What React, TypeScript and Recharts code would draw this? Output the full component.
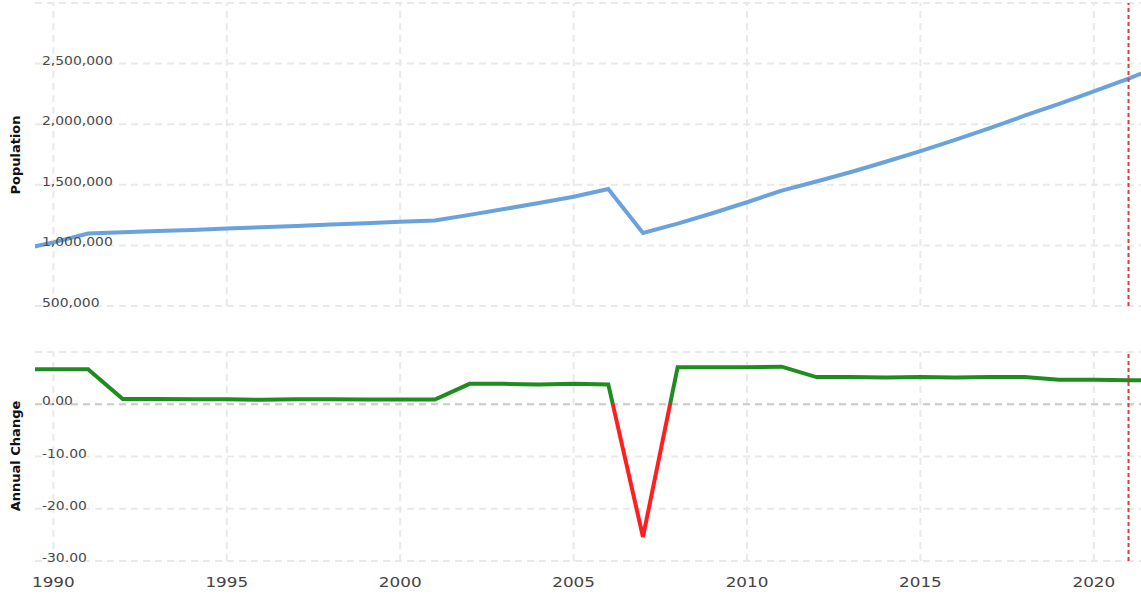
import React from 'react';
import { LineChart, Line, XAxis, YAxis, CartesianGrid, ReferenceLine } from 'recharts';

const years = [
  1989, 1990, 1991, 1992, 1993, 1994, 1995, 1996, 1997, 1998, 1999, 2000, 2001, 2002, 2003, 2004, 2005,
  2006, 2007, 2008, 2009, 2010, 2011, 2012, 2013, 2014, 2015, 2016, 2017, 2018, 2019, 2020, 2021, 2022,
];

const population = [
  962000, 1025000, 1098000, 1108000, 1118000, 1128000, 1139000, 1150000, 1161000, 1172000, 1183000,
  1195000, 1206000, 1252000, 1300000, 1350000, 1402000, 1465000, 1102000, 1180000, 1265000, 1356000,
  1452000, 1527000, 1606000, 1690000, 1778000, 1870000, 1967000, 2070000, 2168000, 2270000, 2377000,
  2488000,
];

const annualChange = [
  6.7, 6.7, 6.7, 1.0, 1.0, 0.95, 0.95, 0.85, 0.95, 0.95, 0.9, 0.9, 0.9, 3.9, 3.9, 3.8, 3.9, 3.8, -25.4,
  7.1, 7.1, 7.1, 7.2, 5.2, 5.2, 5.1, 5.2, 5.1, 5.2, 5.2, 4.7, 4.7, 4.6, 4.6,
];

const yearTicks = [1990, 1995, 2000, 2005, 2010, 2015, 2020];
const popTicks = [500000, 1000000, 1500000, 2000000, 2500000, 3000000];
const changeTicks = [-30, -20, -10, 0, 10];
const markerYear = 2021;

const rows = years.map((year, i) => ({ year, population: population[i], change: annualChange[i] }));

const X_DOMAIN: [number, number] = [1989.47, 2021.36];
const POP_DOMAIN: [number, number] = [500000, 3000000];
const CHG_DOMAIN: [number, number] = [-30, 10];

const W = 1141;
const TOP_H = 310;
const TOP_MARGIN = { top: 3, right: 0, bottom: 4, left: 0 };
const BOT_TOP = 310;
const BOT_H = 285;
const BOT_MARGIN = { top: 42, right: 0, bottom: 0, left: 0 };
const AXIS_W = 35;
const XAXIS_H = 34;

const FONT = '"DejaVu Sans", Verdana, sans-serif';
const STRETCH = 1.16;
const GRID = '#e9e9e9';
const DASH = '7 5';

const makeYTick = (fmt: (v: number) => string, hideTop: number) => (props: any) => {
  const { y, payload } = props;
  if (payload.value === hideTop) return <g />;
  return (
    <text
      transform={`translate(42,${Number(y) + 1}) scale(${STRETCH},1)`}
      fontFamily={FONT}
      fontSize={12}
      fill="#4a4a4a"
    >
      {fmt(payload.value)}
    </text>
  );
};

const PopTick = makeYTick((v) => v.toLocaleString('en-US'), 3000000);
const ChangeTick = makeYTick((v) => v.toFixed(2), 10);

const YearTick = (props: any) => {
  const { x, y, payload } = props;
  return (
    <text
      transform={`translate(${x},${Number(y) + 18}) scale(${STRETCH},1)`}
      textAnchor="middle"
      fontFamily={FONT}
      fontSize={14.5}
      fill="#444"
    >
      {payload.value}
    </text>
  );
};

const EmptyTick = () => <g />;

const zeroOffset = (CHG_DOMAIN[1] - 0) / (CHG_DOMAIN[1] - CHG_DOMAIN[0]);

const yearGrid = () =>
  yearTicks.map((t) => (
    <ReferenceLine key={t} x={t} stroke={GRID} strokeWidth={2} strokeDasharray={DASH} />
  ));

export default function App() {
  const botPlotTop = BOT_MARGIN.top;
  const botPlotBottom = BOT_H - BOT_MARGIN.bottom - XAXIS_H;
  return (
    <div style={{ position: 'absolute', left: 0, top: 0, width: W, height: 595, background: '#fff', overflow: 'hidden' }}>
      <div style={{ position: 'absolute', left: 0, top: 0 }}>
        <LineChart width={W} height={TOP_H} data={rows} margin={TOP_MARGIN}>
          <CartesianGrid vertical={false} stroke={GRID} strokeWidth={2} strokeDasharray={DASH} />
          <XAxis
            dataKey="year"
            type="number"
            domain={X_DOMAIN}
            allowDataOverflow
            ticks={yearTicks}
            tick={EmptyTick}
            axisLine={false}
            tickLine={false}
            height={0}
          />
          <YAxis
            type="number"
            domain={POP_DOMAIN}
            allowDataOverflow
            ticks={popTicks}
            interval={0}
            tick={PopTick}
            axisLine={false}
            tickLine={false}
            width={AXIS_W}
          />
          {yearGrid()}
          <Line
            dataKey="population"
            stroke="#6aa2dc"
            strokeWidth={4}
            dot={false}
            activeDot={false}
            isAnimationActive={false}
          />
          <ReferenceLine x={markerYear} stroke="#e03a3a" strokeWidth={2} strokeDasharray="4 3" />
        </LineChart>
      </div>
      <div style={{ position: 'absolute', left: 0, top: BOT_TOP }}>
        <LineChart width={W} height={BOT_H} data={rows} margin={BOT_MARGIN}>
          <defs>
            <linearGradient
              id="changeStroke"
              gradientUnits="userSpaceOnUse"
              x1="0"
              y1={botPlotTop}
              x2="0"
              y2={botPlotBottom}
            >
              <stop offset={zeroOffset} stopColor="#1f8c1f" />
              <stop offset={zeroOffset} stopColor="#ff1f1f" />
            </linearGradient>
          </defs>
          <CartesianGrid vertical={false} stroke={GRID} strokeWidth={2} strokeDasharray={DASH} />
          <XAxis
            dataKey="year"
            type="number"
            domain={X_DOMAIN}
            allowDataOverflow
            ticks={yearTicks}
            interval={0}
            tick={YearTick}
            axisLine={false}
            tickLine={false}
            height={XAXIS_H}
          />
          <YAxis
            type="number"
            domain={CHG_DOMAIN}
            allowDataOverflow
            ticks={changeTicks}
            interval={0}
            tick={ChangeTick}
            axisLine={false}
            tickLine={false}
            width={AXIS_W}
          />
          {yearGrid()}
          <ReferenceLine y={0} stroke="#cccccc" strokeWidth={2} strokeDasharray={DASH} />
          <Line
            dataKey="change"
            stroke="url(#changeStroke)"
            strokeWidth={4}
            dot={false}
            activeDot={false}
            isAnimationActive={false}
          />
          <ReferenceLine x={markerYear} stroke="#e03a3a" strokeWidth={2} strokeDasharray="4 3" />
        </LineChart>
      </div>
      <svg width={40} height={595} style={{ position: 'absolute', left: 0, top: 0, pointerEvents: 'none' }}>
        <text
          transform="translate(20,155) rotate(-90)"
          textAnchor="middle"
          fontFamily={FONT}
          fontWeight="bold"
          fontSize={13}
          fill="#111"
        >
          Population
        </text>
        <text
          transform="translate(20,456) rotate(-90)"
          textAnchor="middle"
          fontFamily={FONT}
          fontWeight="bold"
          fontSize={13}
          fill="#111"
        >
          Annual Change
        </text>
      </svg>
    </div>
  );
}
